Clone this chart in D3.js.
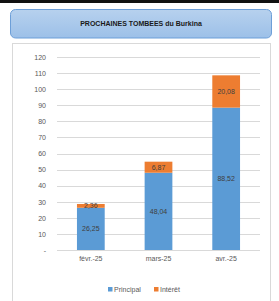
<!DOCTYPE html>
<html>
<head>
    <meta charset="utf-8">
    <title>Prochaines tombees du Burkina</title>
    <script src="https://d3js.org/d3.v7.min.js"></script>
    <style>
        body {
            margin: 0;
            font-family: "Liberation Sans", Arial, sans-serif;
            background-color: white;
            overflow: hidden;
        }
        #chart {
            width: 279px;
            height: 301px;
        }
        .tick text {
            fill: #595959;
            font-size: 7px;
        }
        .label {
            fill: #404040;
            font-size: 7px;
        }
    </style>
</head>
<body>
    <div id="chart"></div>
    <script>
        // Data
        const months = ["févr.-25", "mars-25", "avr.-25"];
        const principal = [26.25, 48.04, 88.52];
        const interet = [2.36, 6.87, 20.08];
        const yTicks = [0, 10, 20, 30, 40, 50, 60, 70, 80, 90, 100, 110, 120];
        const seriesNames = ["Principal", "Intérêt"];
        const colors = ["#5b9bd5", "#ed7d31"];

        const width = 279;
        const height = 301;

        const svg = d3.select("#chart")
            .append("svg")
            .attr("width", width)
            .attr("height", height);

        // Top black strip
        svg.append("rect")
            .attr("x", 0).attr("y", 0)
            .attr("width", width).attr("height", 3)
            .attr("fill", "#111");

        // Title box with gradient
        const grad = svg.append("defs").append("linearGradient")
            .attr("id", "titleGrad")
            .attr("x1", 0).attr("y1", 0).attr("x2", 0).attr("y2", 1);
        grad.append("stop").attr("offset", "0%").attr("stop-color", "#b7d1ee");
        grad.append("stop").attr("offset", "100%").attr("stop-color", "#9cc0e8");

        svg.append("rect")
            .attr("x", 10.5).attr("y", 9.5)
            .attr("width", 261).attr("height", 28.5)
            .attr("rx", 5)
            .attr("fill", "url(#titleGrad)")
            .attr("stroke", "#6d9fd8")
            .attr("stroke-width", 1);

        svg.append("text")
            .attr("x", 141).attr("y", 26)
            .attr("text-anchor", "middle")
            .style("font-size", "7px")
            .style("font-weight", "bold")
            .attr("fill", "#1a1a1a")
            .text("PROCHAINES TOMBEES du Burkina");

        // Chart panel
        svg.append("rect")
            .attr("x", 12.5).attr("y", 43.5)
            .attr("width", 258).attr("height", 270)
            .attr("fill", "white")
            .attr("stroke", "#d9d9d9")
            .attr("stroke-width", 1);

        // Scales
        const x = d3.scaleBand()
            .domain(months)
            .range([57, 260])
            .paddingInner(0.59)
            .paddingOuter(0.295);

        const y = d3.scaleLinear()
            .domain([0, 120])
            .range([250, 57]);

        // Gridlines
        svg.append("g")
            .selectAll("line")
            .data(yTicks)
            .enter()
            .append("line")
            .attr("x1", 57).attr("x2", 260)
            .attr("y1", d => Math.round(y(d)) + 0.5)
            .attr("y2", d => Math.round(y(d)) + 0.5)
            .attr("stroke", "#d9d9d9")
            .attr("stroke-width", 1);

        // Y axis labels
        const yAxis = d3.axisLeft(y)
            .tickValues(yTicks)
            .tickSize(0)
            .tickPadding(0)
            .tickFormat(d => d === 0 ? "-" : d);
        svg.append("g")
            .attr("transform", "translate(46,0)")
            .call(yAxis)
            .call(g => g.select(".domain").remove());

        // X axis labels
        const xAxis = d3.axisBottom(x).tickSize(0).tickPadding(0);
        svg.append("g")
            .attr("transform", "translate(0,256)")
            .call(xAxis)
            .call(g => g.select(".domain").remove());

        // Stack data
        const rows = months.map((m, i) => ({ month: m, Principal: principal[i], "Intérêt": interet[i] }));
        const stacked = d3.stack().keys(seriesNames)(rows);

        const layers = svg.append("g")
            .selectAll("g")
            .data(stacked)
            .enter()
            .append("g")
            .attr("fill", (d, i) => colors[i]);

        layers.selectAll("rect")
            .data(d => d)
            .enter()
            .append("rect")
            .attr("x", d => x(d.data.month))
            .attr("width", x.bandwidth())
            .attr("y", d => y(d[1]))
            .attr("height", d => y(d[0]) - y(d[1]));

        // Value labels
        layers.selectAll("text")
            .data(d => d.map(v => ({ v, key: d.key })))
            .enter()
            .append("text")
            .attr("class", "label")
            .attr("text-anchor", "middle")
            .attr("x", d => x(d.v.data.month) + x.bandwidth() / 2)
            .attr("y", d => y((d.v[0] + d.v[1]) / 2) + 2.5)
            .text(d => d3.format(".2f")(d.v.data[d.key]).replace(".", ","));

        // Legend
        const legend = svg.append("g")
            .selectAll("g")
            .data(seriesNames)
            .enter()
            .append("g")
            .attr("transform", (d, i) => `translate(${[108, 154][i]},287)`);

        legend.append("rect")
            .attr("width", 4.5).attr("height", 4.5)
            .attr("fill", (d, i) => colors[i]);

        legend.append("text")
            .attr("class", "label")
            .attr("x", 6).attr("y", 4.5)
            .style("fill", "#595959")
            .style("font-size", "7px")
            .text(d => d);
    </script>
</body>
</html>
